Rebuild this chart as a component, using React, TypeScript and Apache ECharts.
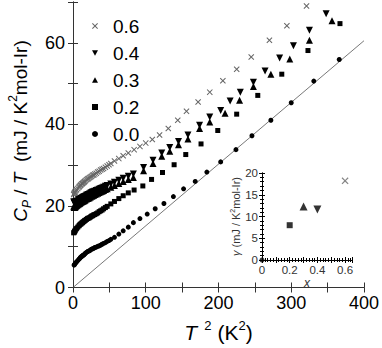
import React, { useEffect, useRef } from "react";
import * as echarts from "echarts";

const FONT = "Liberation Sans, Arial, sans-serif";

// Main plot: T^2 (K^2) vs Cp/T (mJ / K^2 mol-Ir)
const x00: number[][] = [
  [1.5, 5.5], [2, 5.6], [3, 5.9], [4, 6.1], [5, 6.3], [6.5, 6.6], [8, 6.9], [9, 7.1], [10, 7.3], [11, 7.5], [12, 7.6], [13, 7.8], [14, 7.9],
  [15, 8.0], [16, 8.2], [17, 8.4], [18.5, 8.6], [20, 8.8], [21, 8.9], [22.5, 9.0], [24, 9.2], [25.5, 9.4], [27, 9.5], [28.5, 9.6], [30, 9.8], [32, 9.9], [34, 10.1], [36, 10.2], [38, 10.4],
  [40, 10.6], [42, 10.8], [44.5, 11.0], [47, 11.3], [49.5, 11.5], [52, 11.8], [57, 12.3], [63, 13.1], [69, 13.9], [76, 14.8], [83, 15.9],
  [92, 16.9], [102, 18.0], [113, 19.3], [125, 20.6], [138, 22.3], [152, 24.2], [168, 26.0],
  [184, 28.3], [203, 30.8], [224, 33.8], [246, 37.2], [272, 41.0], [300, 45.3], [331, 50.6], [366, 55.9],
];
const x02: number[][] = [
  [1, 13.4], [1.5, 13.5], [2, 13.7], [2.5, 13.8], [3, 14.0], [4, 14.3], [5, 14.5], [6.5, 14.8], [8, 15.1], [9, 15.3], [10, 15.5], [11, 15.6], [12, 15.8], [13, 15.9],
  [14, 16.1], [15, 16.2], [16, 16.4], [17, 16.5], [18.5, 16.7], [20, 16.9], [21, 17.0], [22.5, 17.1], [24, 17.3], [25.5, 17.5], [27, 17.6], [28.5, 17.8], [30, 17.9], [32, 18.1], [34, 18.3],
  [36, 18.6], [38, 18.8], [40, 19.0], [42, 19.3], [44.5, 19.6], [47, 19.9], [52, 20.5], [57, 21.1], [63, 21.8], [69, 22.5], [76, 23.2],
  [84, 23.9], [96, 24.9], [108, 26.5], [123, 28.2], [139, 30.1], [155, 32.6], [176, 35.2], [199, 38.5],
  [225, 42.5], [254, 47.1], [287, 52.3], [323, 58.1], [367, 64.7],
];
const x03: number[][] = [
  [1, 19.9], [1.5, 19.6], [2, 19.7], [2.5, 19.7], [3, 19.8], [4, 19.9], [5, 20.1], [6.5, 20.3], [8, 20.5], [9, 20.6], [10, 20.8], [11, 20.9], [12, 21.0], [13, 21.1],
  [14, 21.2], [15, 21.3], [16, 21.4], [17, 21.5], [18.5, 21.7], [20, 21.8], [21, 21.9], [22.5, 22.0], [24, 22.2], [25.5, 22.4], [27, 22.5], [28.5, 22.6], [30, 22.8], [32, 22.9], [34, 23.1],
  [36, 23.3], [38, 23.5], [40, 23.6], [42, 23.8], [44.5, 24.0], [47, 24.2], [52, 24.6], [57, 25.0], [63, 25.5], [69, 26.0], [76, 26.5],
  [83, 27.0], [97, 28.6], [110, 30.4], [122, 32.2], [133, 33.4], [145, 35.0], [158, 36.4], [174, 39.0],
  [188, 40.6], [209, 42.7], [229, 45.9], [248, 49.3], [272, 52.3], [298, 56.0], [325, 60.6], [356, 65.4],
];
const x04: number[][] = [
  [1, 21.0], [1.5, 20.8], [2, 20.8], [2.5, 20.8], [3, 20.9], [4, 21.0], [5, 21.1], [6.5, 21.3], [8, 21.5], [9, 21.6], [10, 21.7], [11, 21.8], [12, 21.9], [13, 22.0],
  [14, 22.1], [15, 22.2], [16, 22.3], [17, 22.4], [18.5, 22.6], [20, 22.7], [21, 22.8], [22.5, 22.9], [24, 23.1], [25.5, 23.3], [27, 23.4], [28.5, 23.5], [30, 23.6], [32, 23.8], [34, 23.9],
  [36, 24.1], [38, 24.3], [40, 24.4], [42, 24.6], [44.5, 24.8], [47, 25.0], [52, 25.4], [57, 25.8], [63, 26.3], [69, 26.8], [76, 27.3],
  [83, 27.8], [97, 29.4], [110, 31.2], [122, 33.0], [133, 34.3], [145, 35.8], [158, 37.4], [174, 39.8],
  [188, 41.8], [203, 43.4], [216, 45.7], [230, 47.9], [248, 50.3], [264, 53.1], [284, 56.3], [303, 59.3],
  [325, 63.1], [348, 67.1],
];
const x06: number[][] = [
  [1, 22.8], [1.5, 23.0], [2, 23.2], [2.5, 23.3], [3, 23.5], [4, 23.8], [5, 24.0], [6.5, 24.3], [8, 24.6], [9, 24.8], [10, 25.0], [11, 25.2], [12, 25.4], [13, 25.5],
  [14, 25.7], [15, 25.8], [16, 26.0], [17, 26.2], [18.5, 26.4], [20, 26.6], [21, 26.7], [22.5, 26.9], [24, 27.1], [25.5, 27.3], [27, 27.5], [28.5, 27.6], [30, 27.8], [32, 28.0], [34, 28.3],
  [36, 28.5], [38, 28.8], [40, 29.0], [42, 29.2], [44.5, 29.5], [47, 29.8], [49.5, 30.1], [52, 30.4], [57, 31.0], [63, 31.6], [69, 32.3], [76, 33.0],
  [84, 33.8], [92, 34.6], [100, 35.4], [109, 36.3], [119, 37.4], [131, 39.0], [144, 41.0], [156, 43.2],
  [172, 45.5], [188, 47.9], [206, 50.7], [225, 53.5], [245, 56.5], [270, 60.6], [294, 64.2], [321, 69.0],
];
const phononLine: number[][] = [[0, 0], [400, 60.5]];

// Inset: x vs gamma
const insetX = [0, 0.2, 0.3, 0.4, 0.6];
const insetGamma = [0, 8.0, 12.3, 11.6, 18.2];

const seriesNames = ["0.6", "0.4", "0.3", "0.2", "0.0"];

const CROSS = "path://M0,1.2L1.2,0L5,3.8L8.8,0L10,1.2L6.2,5L10,8.8L8.8,10L5,6.2L1.2,10L0,8.8L3.8,5Z";
const TRI_DOWN = "path://M0,0L10,0L5,9Z";
const TRI_UP = "path://M5,0L10,9L0,9Z";

export default function App() {
  const ref = useRef<HTMLDivElement>(null);
  useEffect(() => {
    document.body.style.margin = "0";
    if (!ref.current) return;
    const chart = echarts.init(ref.current, null, { renderer: "svg" });

    const styleOf: Record<string, any> = {
      "0.6": { symbol: CROSS, symbolSize: 6, color: "#666" },
      "0.4": { symbol: TRI_DOWN, symbolSize: 7, color: "#000" },
      "0.3": { symbol: TRI_UP, symbolSize: 7, color: "#000" },
      "0.2": { symbol: "rect", symbolSize: 5, color: "#000" },
      "0.0": { symbol: "circle", symbolSize: 5, color: "#000" },
    };
    const mainData: Record<string, number[][]> = {
      "0.6": x06, "0.4": x04, "0.3": x03, "0.2": x02, "0.0": x00,
    };

    const mainSeries = seriesNames.map((n) => ({
      name: n,
      type: "scatter",
      xAxisIndex: 0,
      yAxisIndex: 0,
      data: mainData[n],
      symbol: styleOf[n].symbol,
      symbolSize: styleOf[n].symbolSize,
      itemStyle: { color: styleOf[n].color, opacity: 1 },
      z: 3,
    }));

    const insetSeries = seriesNames.map((n) => {
      const idx = insetX.findIndex((v) => v.toFixed(1) === n);
      return {
        type: "scatter",
        xAxisIndex: 2,
        yAxisIndex: 2,
        data: [[insetX[idx], insetGamma[idx]]],
        symbol: styleOf[n].symbol,
        symbolSize: n === "0.6" ? 7 : n === "0.0" ? 5 : n === "0.2" ? 6 : 8,
        itemStyle: { color: styleOf[n].color },
        clip: false,
        z: 5,
      };
    });

    const axisLine = { show: true, lineStyle: { color: "#333", width: 1 } };
    const mainLabelX = (v: number) => (v % 100 === 0 ? String(v) : "");
    const mainLabelY = (v: number) => (v % 20 === 0 ? String(v) : "");
    const insetLabelX = (v: number) => {
      const k = Math.round(v * 100);
      return k % 20 === 0 ? (k === 0 ? "0" : (k / 100).toFixed(1)) : "";
    };
    const insetLabelY = (v: number) => (v % 5 === 0 ? String(v) : "");

    const option: any = {
      animation: false,
      backgroundColor: "#fff",
      textStyle: { fontFamily: FONT },
      grid: [
        { left: 73, right: 18, top: 2, bottom: 56, containLabel: false },
        { left: 262, top: 173, width: 90, height: 87, show: true, backgroundColor: "#fff", borderWidth: 0 },
      ],
      legend: {
        data: seriesNames.map((n) => ({
          name: n,
          icon: styleOf[n].symbol,
          itemStyle: { color: styleOf[n].color },
        })),
        orient: "vertical",
        left: 87,
        top: 11,
        itemWidth: 6,
        itemHeight: 6,
        itemGap: 7,
        selectedMode: false,
        textStyle: { fontSize: 19, color: "#000", fontFamily: FONT, lineHeight: 20, padding: [0, 0, 0, 10] },
      },
      graphic: [
        {
          type: "text",
          x: 20,
          y: 131,
          rotation: Math.PI / 2,
          style: {
            text: "{i|C}{sub|P}{n| / }{i|T}{n|  (mJ / K}{sup|2}{n|mol-Ir)}",
            align: "center",
            verticalAlign: "middle",
            rich: {
              i: { fontSize: 19, fontStyle: "italic", fontFamily: FONT, lineHeight: 26, fill: "#000" },
              n: { fontSize: 19, fontFamily: FONT, lineHeight: 26, fill: "#000" },
              sub: { fontSize: 12, fontStyle: "italic", fontFamily: FONT, lineHeight: 12, verticalAlign: "bottom", fill: "#000" },
              sup: { fontSize: 12, fontFamily: FONT, lineHeight: 12, verticalAlign: "top", fill: "#000" },
            },
          },
        },
      ],
      xAxis: [
        {
          type: "value", gridIndex: 0, min: 0, max: 400, interval: 50,
          axisLine, splitLine: { show: false },
          axisTick: { inside: true, length: 5, lineStyle: { color: "#333" } },
          axisLabel: { formatter: mainLabelX, fontSize: 18, color: "#000", margin: 6, fontFamily: FONT },
          name: "{i|T}{sup|  2}{n| (K}{sup|2}{n|)}",
          nameLocation: "middle",
          nameGap: 31,
          nameTextStyle: {
            rich: {
              i: { fontSize: 21, fontStyle: "italic", fontFamily: FONT, lineHeight: 28, color: "#000" },
              n: { fontSize: 21, fontFamily: FONT, lineHeight: 28, color: "#000" },
              sup: { fontSize: 13, fontFamily: FONT, lineHeight: 14, verticalAlign: "top", color: "#000" },
            },
          },
        },
        {
          type: "value", gridIndex: 0, position: "top", min: 0, max: 400, interval: 50,
          axisLine, splitLine: { show: false },
          axisTick: { inside: true, length: 5, lineStyle: { color: "#333" } },
          axisLabel: { show: false },
        },
        {
          type: "value", gridIndex: 1, min: 0, max: 0.65, interval: 0.1,
          axisLine: { show: true, lineStyle: { color: "#000", width: 1 } }, splitLine: { show: false },
          axisTick: { inside: true, length: 3, lineStyle: { color: "#000" } },
          minorTick: { show: true, splitNumber: 5, length: 2, lineStyle: { color: "#000" } },
          axisLabel: { formatter: insetLabelX, fontSize: 11.5, color: "#333", margin: 4, fontFamily: FONT },
          name: "x",
          nameLocation: "middle",
          nameGap: 14,
          nameTextStyle: { fontSize: 12, fontStyle: "italic", color: "#333", fontFamily: FONT },
        },
        {
          type: "value", gridIndex: 1, position: "top", min: 0, max: 0.65, interval: 0.1,
          axisLine: { show: true, lineStyle: { color: "#000", width: 1 } }, splitLine: { show: false },
          axisTick: { inside: true, length: 3, lineStyle: { color: "#000" } },
          minorTick: { show: true, splitNumber: 5, length: 2, lineStyle: { color: "#000" } },
          axisLabel: { show: false },
        },
      ],
      yAxis: [
        {
          type: "value", gridIndex: 0, min: 0, max: 70, interval: 10,
          axisLine, splitLine: { show: false },
          axisTick: { inside: true, length: 5, lineStyle: { color: "#333" } },
          axisLabel: { formatter: mainLabelY, fontSize: 18, color: "#000", margin: 8, fontFamily: FONT },
        },
        {
          type: "value", gridIndex: 0, position: "right", min: 0, max: 70, interval: 10,
          axisLine, splitLine: { show: false },
          axisTick: { inside: true, length: 5, lineStyle: { color: "#333" } },
          axisLabel: { show: false },
        },
        {
          type: "value", gridIndex: 1, min: 0, max: 20, interval: 5,
          axisLine: { show: true, lineStyle: { color: "#000", width: 1 } }, splitLine: { show: false },
          axisTick: { inside: true, length: 3, lineStyle: { color: "#000" } },
          minorTick: { show: true, splitNumber: 5, length: 2, lineStyle: { color: "#000" } },
          axisLabel: { formatter: insetLabelY, fontSize: 11.5, color: "#333", margin: 4, fontFamily: FONT },
          name: "{g|γ}{n| (mJ / K}{sup|2}{n|mol-Ir)}",
          nameLocation: "middle",
          nameRotate: 90,
          nameGap: 11,
          nameTextStyle: {
            rich: {
              g: { fontSize: 11, fontStyle: "italic", fontFamily: FONT, lineHeight: 14, color: "#333" },
              n: { fontSize: 11, fontFamily: FONT, lineHeight: 14, color: "#333" },
              sup: { fontSize: 7, fontFamily: FONT, lineHeight: 7, verticalAlign: "top", color: "#333" },
            },
          },
        },
        {
          type: "value", gridIndex: 1, position: "right", min: 0, max: 20, interval: 5,
          axisLine: { show: true, lineStyle: { color: "#000", width: 1 } }, splitLine: { show: false },
          axisTick: { inside: true, length: 3, lineStyle: { color: "#000" } },
          minorTick: { show: true, splitNumber: 5, length: 2, lineStyle: { color: "#000" } },
          axisLabel: { show: false },
        },
      ],
      series: [
        {
          type: "line",
          xAxisIndex: 0,
          yAxisIndex: 0,
          data: phononLine,
          symbol: "none",
          lineStyle: { color: "#555", width: 0.8 },
          z: 2,
        },
        ...mainSeries,
        ...insetSeries,
      ],
    };
    chart.setOption(option);
    return () => chart.dispose();
  }, []);
  return <div ref={ref} style={{ width: 382, height: 348 }} />;
}
